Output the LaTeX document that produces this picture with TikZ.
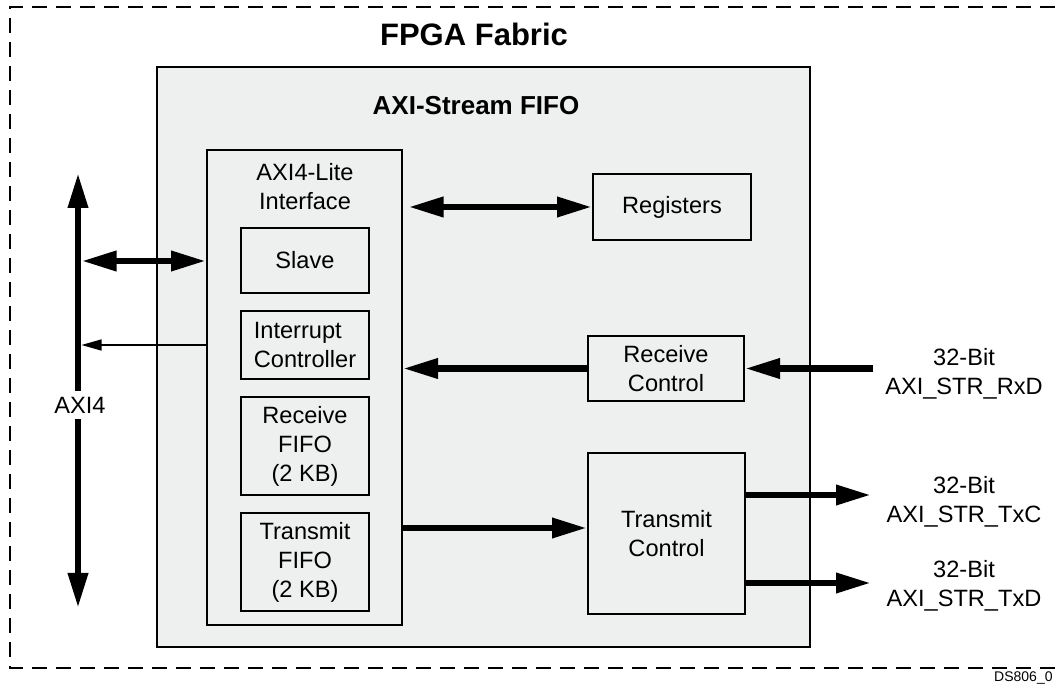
\documentclass[tikz,border=0pt]{standalone}
\usepackage{fontspec}
\setmainfont{Liberation Sans}
\usetikzlibrary{arrows.meta}
\definecolor{fifogray}{RGB}{238,239,239}

\begin{document}
\begin{tikzpicture}[x=0.5pt, y=-0.5pt,
    font=\fontsize{11.8}{14.5}\selectfont,
    blk/.style={draw, line width=1pt, fill=fifogray, align=center, inner sep=0pt},
    bus/.style={line width=3.3pt, -{Stealth[length=17.5pt,width=9.5pt,inset=0pt]}},
    dbus/.style={line width=3.3pt, {Stealth[length=17.5pt,width=9.5pt,inset=0pt]}-{Stealth[length=17.5pt,width=9.5pt,inset=0pt]}},
    irqline/.style={line width=0.65pt, -{Stealth[length=10pt,width=5.5pt,inset=0pt]}}]

    \useasboundingbox (0,0) rectangle (1055,694);

    % fabric border, the right side runs off the page
    \draw[line width=0.75pt, dash pattern=on 7.5pt off 4.5pt] (1055,7) -- (10,7) -- (10,668) -- (1055,668);
    \node[font=\bfseries\fontsize{15.5}{18}\selectfont] (fabric) at (474,34) {FPGA Fabric};
    \node[font=\fontsize{7}{8}\selectfont, anchor=east, inner sep=0pt] (dsnum) at (1053,678) {DS806\_0};

    \node[blk, line width=1.2pt, minimum width=326.5pt, minimum height=290pt] (fifo) at (483.5,357) {};
    \node[font=\bfseries\fontsize{13}{16}\selectfont] (fifolbl) at (476,106) {AXI-Stream FIFO};

    % AXI4-Lite interface and its blocks
    \node[blk, minimum width=97.5pt, minimum height=237.5pt] (lite) at (304.5,387.5) {};
    \node[align=center] (litelbl) at (305,186.5) {AXI4-Lite\\Interface};
    \node[blk, minimum width=64pt, minimum height=32.5pt] (slave) at (305,260.5) {Slave};
    \node[blk, align=left, minimum width=64pt, minimum height=34pt] (intc) at (305,345) {Interrupt\\Controller};
    \node[blk, minimum width=64pt, minimum height=49pt] (rxfifo) at (305,446) {Receive\\FIFO\\(2 KB)};
    \node[blk, minimum width=64pt, minimum height=49pt] (txfifo) at (305,562) {Transmit\\FIFO\\(2 KB)};

    \node[blk, minimum width=79pt, minimum height=33pt] (regs) at (672,207) {Registers};
    \node[blk, minimum width=78pt, minimum height=32.5pt] (rxctl) at (666,368.5) {Receive\\Control};
    \node[blk, minimum width=78.5pt, minimum height=80.5pt] (txctl) at (666.5,533.5) {Transmit\\Control};

    % AXI4 bus
    \coordinate (bustop) at (78,173);
    \coordinate (busbot) at (78,608);
    \draw[dbus] (bustop) -- (busbot);
    \node[fill=white, inner sep=3pt] (axi) at (80,405) {AXI4};

    \coordinate (slvtap) at (81.5,261);
    \coordinate (irqtap) at (81.5,345);
    \draw[dbus] (slvtap) -- (slvtap -| lite.west);
    \draw[irqline] (irqtap -| lite.west) -- (irqtap);

    % inside the FIFO
    \draw[dbus, shorten <=2.75pt] (regs.west -| lite.east) -- (regs.west);
    \draw[bus] (rxctl.west) -- (rxctl.west -| lite.east);
    \coordinate (txin) at ([yshift=2.75pt]txctl.west);
    \draw[bus] (txin -| lite.east) -- (txin);

    % streams
    \node[align=center] (rxd) at (964,373.5) {32-Bit\\AXI\_STR\_RxD};
    \node[align=center] (txc) at (964,501.5) {32-Bit\\AXI\_STR\_TxC};
    \node[align=center] (txd) at (964,586) {32-Bit\\AXI\_STR\_TxD};

    \coordinate (rxsrc) at (873,368.5);
    \coordinate (txcdst) at (871,495);
    \coordinate (txddst) at (871,583);
    \draw[bus] (rxsrc) -- (rxsrc -| rxctl.east);
    \draw[bus] (txcdst -| txctl.east) -- (txcdst);
    \draw[bus] (txddst -| txctl.east) -- (txddst);

\end{tikzpicture}
\end{document}
